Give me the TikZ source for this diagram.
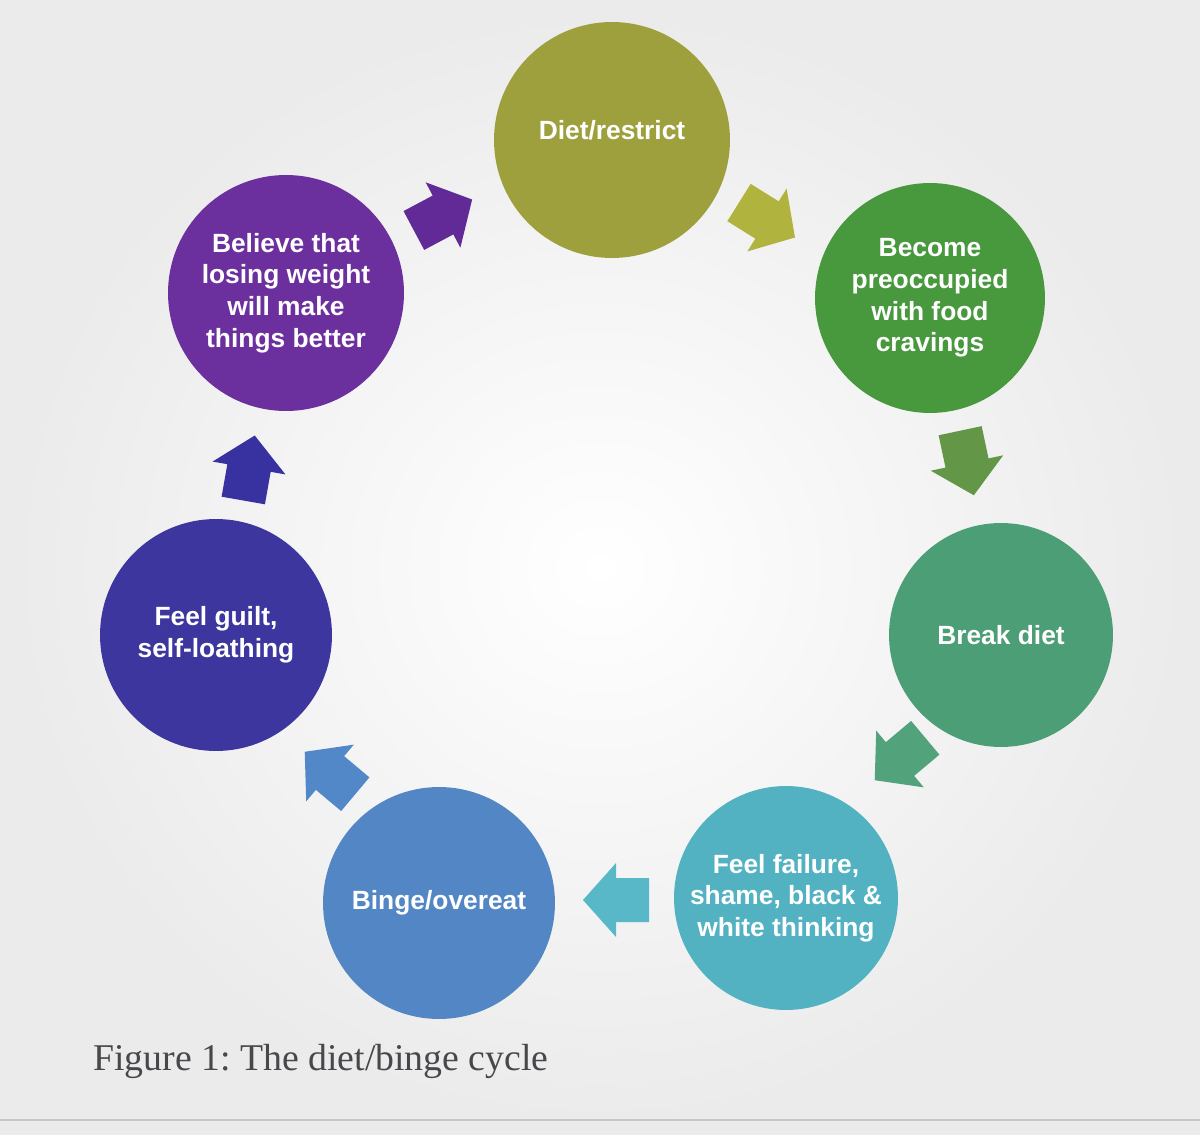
\documentclass[tikz,border=0pt]{standalone}
\usepackage{fontspec}
\setmainfont{Liberation Serif}
\setsansfont{Liberation Sans}
\frenchspacing
\definecolor{cdiet}{RGB}{158,160,62}
\definecolor{cbecome}{RGB}{72,152,62}
\definecolor{cbreak}{RGB}{76,158,118}
\definecolor{cfail}{RGB}{82,178,194}
\definecolor{cbinge}{RGB}{82,134,196}
\definecolor{cguilt}{RGB}{60,54,158}
\definecolor{cbelieve}{RGB}{108,48,158}
\definecolor{aone}{RGB}{98,42,150}
\definecolor{atwo}{RGB}{176,180,62}
\definecolor{athree}{RGB}{100,150,72}
\definecolor{afour}{RGB}{82,162,124}
\definecolor{afive}{RGB}{88,184,200}
\definecolor{asix}{RGB}{82,136,200}
\definecolor{aseven}{RGB}{56,50,160}
\definecolor{capgray}{RGB}{72,72,76}
\begin{document}
\begin{tikzpicture}[x=0.02cm,y=-0.02cm,
  stage/.style={circle, draw=none, inner sep=0pt, text=white, align=center,
    font=\sffamily\bfseries\fontsize{15}{18}\selectfont},
  blkarrow/.pic={\fill[pic actions] (-33,-22) -- (0,-22) -- (0,-37) -- (33,0) -- (0,37) -- (0,22) -- (-33,22) -- cycle;}
]
\shade[inner color=white, outer color=black!8] (0,0) rectangle (1200,1135);
\useasboundingbox (0,0) rectangle (1200,1135);

\node[stage, fill=cdiet, minimum size=4.72cm] (diet) at (612,140) {Diet/restrict\\[-6.5pt]\mbox{}};
\node[stage, fill=cbecome, minimum size=4.6cm] (become) at (930,298) {Become\\preoccupied\\with food\\cravings};
\node[stage, fill=cbreak, minimum size=4.48cm] (break) at (1001,635) {Break diet};
\node[stage, fill=cfail, minimum size=4.48cm] (fail) at (786,898) {Feel failure,\\shame, black \&\\white thinking};
\node[stage, fill=cbinge, minimum size=4.64cm] (binge) at (439,903) {Binge/overeat};
\node[stage, fill=cguilt, minimum size=4.64cm] (guilt) at (216,635) {Feel guilt,\\self-loathing};
\node[stage, fill=cbelieve, minimum size=4.72cm] (believe) at (286,293) {Believe that\\losing weight\\will make\\things better};

\pic[fill=aone, rotate=28] (aa) at (443,215) {blkarrow};
\pic[fill=atwo, rotate=-32] (ab) at (767,220) {blkarrow};
\pic[fill=athree, rotate=-78] (ac) at (967,463) {blkarrow};
\pic[fill=afour, rotate=-140] (ad) at (900,759) {blkarrow};
\pic[fill=afive, rotate=180] (ae) at (616,900) {blkarrow};
\pic[fill=asix, rotate=140] (af) at (330,773) {blkarrow};
\pic[fill=aseven, rotate=80] (ag) at (249,468) {blkarrow};

\node[anchor=base west, inner sep=0pt, text=capgray, font=\fontsize{21.5}{24}\selectfont] (caption) at (93,1070) {Figure 1: The diet/binge cycle};
\draw[black!22, line width=0.6pt] (0,1120) -- (1200,1120);
\end{tikzpicture}
\end{document}
